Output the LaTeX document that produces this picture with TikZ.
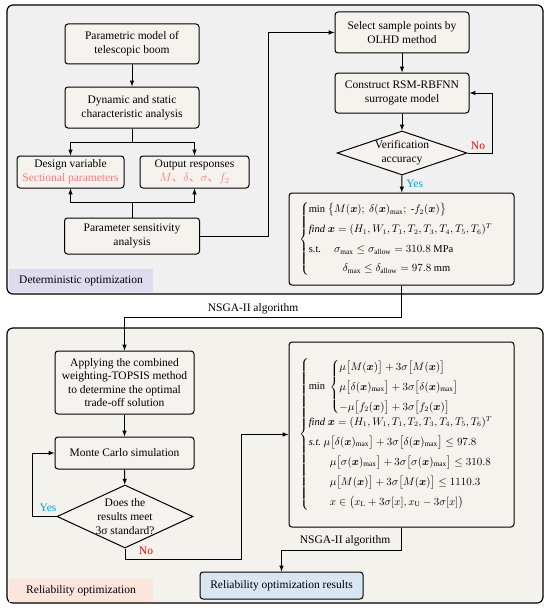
\documentclass[tikz,border=0pt]{standalone}
\usepackage{amsmath}
\usepackage{bm}
\usepackage{fontspec}
\setmainfont{Liberation Serif}
\newfontfamily\cjk{Noto Sans CJK SC}
\usetikzlibrary{positioning,shapes.geometric}

\definecolor{topfill}{RGB}{240,240,240}
\definecolor{botfill}{RGB}{244,242,236}
\definecolor{boxfill}{RGB}{246,243,238}
\definecolor{detfill}{RGB}{223,219,238}
\definecolor{relfill}{RGB}{252,229,220}
\definecolor{resfill}{RGB}{218,229,242}
\definecolor{pinktxt}{RGB}{255,120,120}
\definecolor{yesblue}{RGB}{0,160,230}

\begin{document}
\begin{tikzpicture}[x=1pt,y=-1pt,
  every node/.style={font=\fontsize{11.5}{14}\selectfont},
  box/.style={draw, line width=1pt, rounded corners=3pt, fill=boxfill, align=center, inner sep=2pt},
  dec/.style={draw, line width=1pt, diamond, fill=boxfill, align=center, inner sep=0pt},
  tag/.style={fill=#1, minimum width=144pt, minimum height=23pt, inner sep=0pt},
  fml/.style={font=\fontsize{10.5}{12.5}\selectfont},
  line/.style={line width=1pt},
  arr/.style={-latex, line width=1pt}]
\useasboundingbox (0,0) rectangle (550,610);

\draw[line width=1.2pt, rounded corners=6pt, fill=topfill] (7,5) rectangle (543,294);
\draw[line width=1.2pt, rounded corners=6pt, fill=botfill] (7,328) rectangle (543,603);

\node[tag=detfill] (detlab) at (81,280.5) {Deterministic optimization};
\node[tag=relfill] (rellab) at (81,590.5) {Reliability optimization};

\node[box, minimum width=134pt, minimum height=40pt] (model) at (132,44) {Parametric model of\\telescopic boom};
\node[box, minimum width=134pt, minimum height=41pt] (dyna) at (132,107.5) {Dynamic and static\\characteristic analysis};
\node[box, minimum width=107pt, minimum height=32pt] (desvar) at (70.5,172) {Design variable\\\textcolor{pinktxt}{Sectional parameters}};
\node[box, minimum width=109pt, minimum height=32pt] (outres) at (194.5,172) {Output responses\\\textcolor{pinktxt}{$M$\cjk{、}$\delta$\cjk{、}$\sigma$\cjk{、}$f_2$}};
\node[box, minimum width=135pt, minimum height=36pt] (sensi) at (132,236) {Parameter sensitivity\\analysis};

\node[box, minimum width=134pt, minimum height=41pt] (olhd) at (402,32.5) {Select sample points by\\OLHD method};
\node[box, minimum width=134pt, minimum height=40pt] (rsm) at (402,93) {Construct RSM-RBFNN\\surrogate model};
\node[dec, minimum width=130pt, minimum height=44pt, aspect=2.95] (verif) at (402,153) {Verification\\accuracy};
\node[box, fml, minimum width=225pt, minimum height=92pt] (detopt) at (401.5,239)
  {$\begin{cases}
  \text{min}\ \bigl\{M(\bm{x});\ \delta(\bm{x})_{\max};\ \text{-}f_2(\bm{x})\bigr\}\\[5pt]
  \textit{find}\ \bm{x}=(H_1,W_1,T_1,T_2,T_3,T_4,T_5,T_6)^T\\[5pt]
  \text{s.t.}\quad\ \sigma_{\max}\le\sigma_{\text{allow}}=310.8\ \text{MPa}\\[4pt]
  \qquad\quad\ \delta_{\max}\le\delta_{\text{allow}}=97.8\ \text{mm}
  \end{cases}$};

\node[box, minimum width=139pt, minimum height=63pt, font=\fontsize{11.5}{13.5}\selectfont] (topsis) at (124.5,382.5) {Applying the combined\\weighting-TOPSIS method\\to determine the optimal\\trade-off solution};
\node[box, minimum width=139pt, minimum height=32pt] (monte) at (124.5,453) {Monte Carlo simulation};
\node[dec, minimum width=136pt, minimum height=63pt, aspect=2.16, inner sep=-2pt] (meet) at (125,516.5) {Does the\\results meet\\3σ standard?};
\node[box, fml, minimum width=225pt, minimum height=185pt] (relform) at (401.5,434.5)
  {$\begin{cases}
  \text{min}\ \begin{cases}
    \mu\bigl[M(\bm{x})\bigr]+3\sigma\bigl[M(\bm{x})\bigr]\\[5pt]
    \mu\bigl[\delta(\bm{x})_{\max}\bigr]+3\sigma\bigl[\delta(\bm{x})_{\max}\bigr]\\[5pt]
    -\mu\bigl[f_2(\bm{x})\bigr]+3\sigma\bigl[f_2(\bm{x})\bigr]
  \end{cases}\\[5pt]
  \textit{find}\ \bm{x}=(H_1,W_1,T_1,T_2,T_3,T_4,T_5,T_6)^T\\[5pt]
  \textit{s.t.}\ \mu\bigl[\delta(\bm{x})_{\max}\bigr]+3\sigma\bigl[\delta(\bm{x})_{\max}\bigr]\le 97.8\\[5pt]
  \qquad\mu\bigl[\sigma(\bm{x})_{\max}\bigr]+3\sigma\bigl[\sigma(\bm{x})_{\max}\bigr]\le 310.8\\[5pt]
  \qquad\mu\bigl[M(\bm{x})\bigr]+3\sigma\bigl[M(\bm{x})\bigr]\le 1110.3\\[5pt]
  \qquad x\in\bigl(x_{\mathrm{L}}+3\sigma[x],x_{\mathrm{U}}-3\sigma[x]\bigr)
  \end{cases}$};
\node[box, fill=resfill, minimum width=163pt, minimum height=27pt] (relres) at (281.5,585.5) {Reliability optimization results};

\draw[arr] (model) -- (dyna);
\draw[line] (dyna.south) -- ++(0,14) coordinate (fork1);
\draw[arr] (fork1) -| (desvar.north);
\draw[arr] (fork1) -| (outres.north);
\draw[line] (sensi.north) -- ++(0,-15) coordinate (fork2);
\draw[arr] (fork2) -| (desvar.south);
\draw[arr] (fork2) -| (outres.south);
\draw[arr] (sensi.east) -- ++(68,0) |- (olhd.west);

\draw[arr] (olhd) -- (rsm);
\draw[arr] (rsm) -- (verif);
\draw[arr] (verif.east) -- ++(25,0) |- (rsm.east);
\node[red] (no1) at (478,146) {No};
\draw[arr] (verif) -- (detopt) node[midway, right, text=yesblue, inner sep=4pt] (yes1) {Yes};
\draw[arr] (detopt.south) -- ++(0,32) -| (topsis.north);
\node (nsga1) at (253,309) {NSGA-II algorithm};

\draw[arr] (topsis) -- (monte);
\draw[arr] (monte) -- (meet);
\draw[arr] (meet.west) -- ++(-24,0) |- (monte.west);
\node[text=yesblue] (yes2) at (48,508) {Yes};
\draw[arr] (meet.south) -- ++(0,11) -- ++(116,0) |- (relform.west);
\node[red] (no2) at (146,551) {No};
\draw[arr] (relform.south) -- ++(0,23) -| (relres.north);
\node (nsga2) at (345,541) {NSGA-II algorithm};

\end{tikzpicture}
\end{document}
